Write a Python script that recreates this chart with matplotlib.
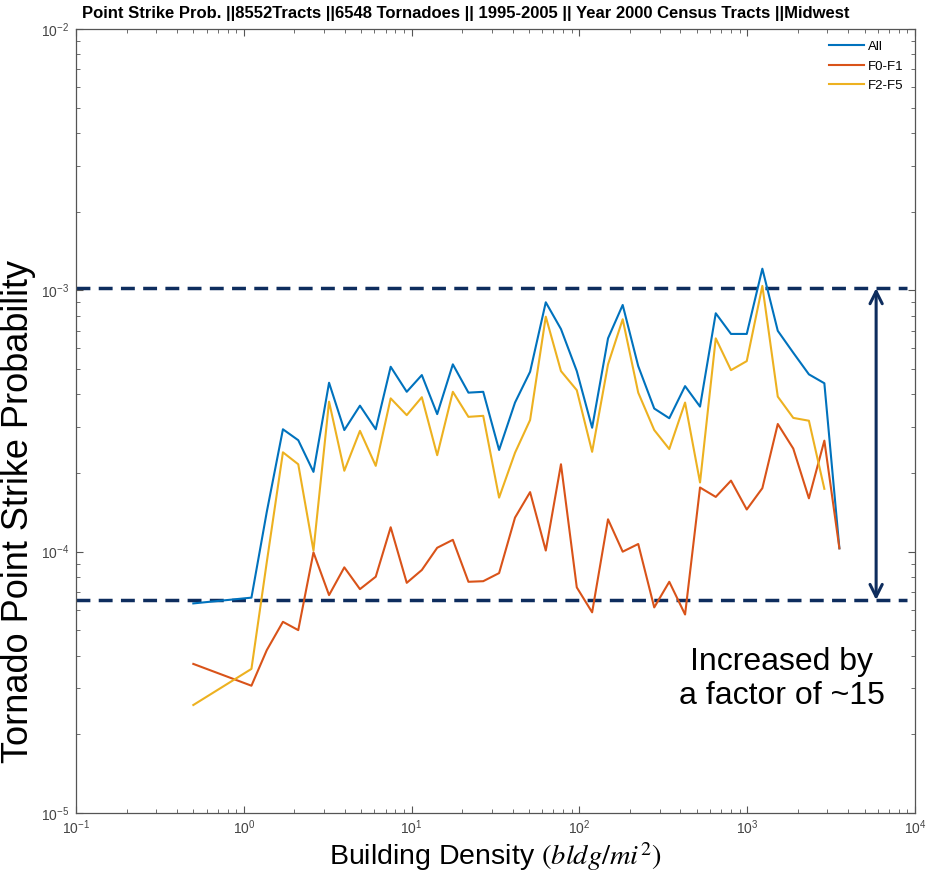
import matplotlib
matplotlib.use("Agg")
import matplotlib.pyplot as plt
from matplotlib.ticker import LogLocator, LogFormatterMathtext, NullFormatter

plt.rcParams['font.family'] = ['Liberation Sans', 'DejaVu Sans']
plt.rcParams['mathtext.fontset'] = 'stix'

# Building density bins (bldg/mi^2)
density = [0.50, 1.11, 1.37, 1.71, 2.11, 2.60, 3.22, 3.97, 4.92, 6.11,
           7.50, 9.35, 11.5, 14.2, 17.6, 21.8, 26.7, 33.2, 41.3, 50.8,
           63.0, 77.6, 96.4, 119, 148, 181, 224, 279, 343, 426,
           523, 649, 800, 993, 1230, 1520, 1880, 2330, 2880, 3540]

# Point strike probability, all tornadoes
p_all = [6.34e-5, 6.67e-5, 1.42e-4, 2.94e-4, 2.67e-4, 2.02e-4, 4.43e-4, 2.92e-4, 3.62e-4, 2.94e-4,
         5.10e-4, 4.09e-4, 4.74e-4, 3.36e-4, 5.21e-4, 4.06e-4, 4.09e-4, 2.45e-4, 3.72e-4, 4.88e-4,
         9.00e-4, 7.11e-4, 4.91e-4, 2.98e-4, 6.55e-4, 8.79e-4, 5.13e-4, 3.53e-4, 3.24e-4, 4.30e-4,
         3.59e-4, 8.17e-4, 6.81e-4, 6.81e-4, 1.21e-3, 7.00e-4, 5.77e-4, 4.77e-4, 4.41e-4, 1.03e-4]

# Weak tornadoes (F0-F1)
p_weak = [3.72e-5, 3.07e-5, 4.20e-5, 5.39e-5, 5.01e-5, 9.94e-5, 6.82e-5, 8.71e-5, 7.19e-5, 8.02e-5,
          1.24e-4, 7.60e-5, 8.51e-5, 1.035e-4, 1.11e-4, 7.67e-5, 7.71e-5, 8.28e-5, 1.35e-4, 1.69e-4,
          1.01e-4, 2.16e-4, 7.30e-5, 5.86e-5, 1.33e-4, 1.00e-4, 1.07e-4, 6.12e-5, 7.67e-5, 5.75e-5,
          1.76e-4, 1.62e-4, 1.87e-4, 1.45e-4, 1.75e-4, 3.08e-4, 2.48e-4, 1.60e-4, 2.66e-4, 1.03e-4]

# Strong tornadoes (F2-F5); no value in the last bin
p_strong = [2.59e-5, 3.56e-5, 9.12e-5, 2.40e-4, 2.16e-4, 1.01e-4, 3.75e-4, 2.04e-4, 2.90e-4, 2.13e-4,
            3.86e-4, 3.33e-4, 3.90e-4, 2.34e-4, 4.09e-4, 3.28e-4, 3.31e-4, 1.61e-4, 2.39e-4, 3.19e-4,
            7.93e-4, 4.91e-4, 4.15e-4, 2.41e-4, 5.21e-4, 7.75e-4, 4.06e-4, 2.92e-4, 2.47e-4, 3.72e-4,
            1.84e-4, 6.55e-4, 4.95e-4, 5.36e-4, 1.04e-3, 3.92e-4, 3.25e-4, 3.17e-4, 1.74e-4]

series_labels = ["All", "F0-F1", "F2-F5"]
series_colors = ["#0072BD", "#D95319", "#EDB120"]

ref_high = 1.02e-3
ref_low = 6.53e-5
arrow_x = 5860
dashed_x = [0.1, 9000]

fig = plt.figure(figsize=(9.26, 8.73), dpi=100)
ax = fig.add_axes([0.0821, 0.0687, 0.9061, 0.8981])

ax.plot(density, p_all, color=series_colors[0], lw=1.5, label=series_labels[0])
ax.plot(density, p_weak, color=series_colors[1], lw=1.5, label=series_labels[1])
ax.plot(density[:len(p_strong)], p_strong, color=series_colors[2], lw=1.5, label=series_labels[2])

ax.set_xscale('log')
ax.set_yscale('log')
ax.set_xlim(1e-1, 1e4)
ax.set_ylim(1e-5, 1e-2)

navy = "#0E2D5E"
for yv in (ref_high, ref_low):
    ax.plot(dashed_x, [yv, yv], color=navy, lw=2.5, dashes=(4, 2.4), zorder=1)

ax.annotate("", xy=(arrow_x, ref_high), xytext=(arrow_x, ref_low),
            arrowprops=dict(arrowstyle="<->", color=navy, lw=2.2,
                            mutation_scale=22, shrinkA=0, shrinkB=0))

ax.text(0.841, 0.171, "Increased by\na factor of ~15", transform=ax.transAxes,
        ha='center', va='center', fontsize=23, linespacing=1.2, color='black')

for s in ax.spines.values():
    s.set_color("#555555")
    s.set_linewidth(0.9)
ax.tick_params(which='both', direction='in', top=True, right=True, colors="#555555",
               labelcolor="#444444", labelsize=10)
ax.tick_params(which='major', length=5)
ax.tick_params(which='minor', length=3)
ax.tick_params(axis='x', which='major', pad=4)
ax.tick_params(axis='y', which='major', pad=5)
ax.xaxis.set_major_locator(LogLocator(base=10, numticks=10))
ax.yaxis.set_major_locator(LogLocator(base=10, numticks=10))
ax.xaxis.set_minor_locator(LogLocator(base=10, subs=range(2, 10), numticks=20))
ax.yaxis.set_minor_locator(LogLocator(base=10, subs=range(2, 10), numticks=20))
ax.xaxis.set_minor_formatter(NullFormatter())
ax.yaxis.set_minor_formatter(NullFormatter())
ax.xaxis.set_major_formatter(LogFormatterMathtext())
ax.yaxis.set_major_formatter(LogFormatterMathtext())

ax.set_xlabel(r"Building Density $(bldg/mi^2)$", fontsize=20.5)
ax.xaxis.set_label_coords(0.5, -0.034)
ax.set_ylabel("Tornado Point Strike Probability", fontsize=26)
ax.yaxis.set_label_coords(-0.048, 0.385)
ax.set_title("Point Strike Prob. ||8552Tracts ||6548 Tornadoes || 1995-2005 || Year 2000 Census Tracts ||Midwest",
             fontsize=12, fontweight='bold', pad=8, x=0.464)

leg = ax.legend(loc='upper right', frameon=False, fontsize=9.5, handlelength=2.6,
                handletextpad=0.3, borderaxespad=0.5, labelspacing=0.55)

fig.savefig("out.png", dpi=100, facecolor='white')
